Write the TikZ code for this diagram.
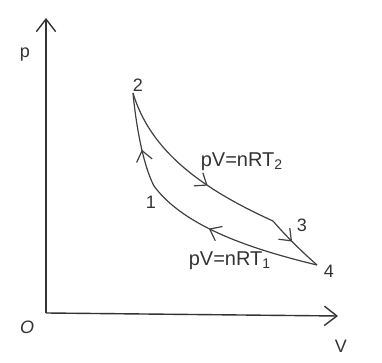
\documentclass[tikz,border=0pt]{standalone}
\usepackage{fontspec}
\setmainfont{Liberation Sans}
\usetikzlibrary{arrows.meta,decorations.markings}
\tikzset{
  ax/.style={-{Straight Barb[length=2.2mm,width=3.4mm]}, line width=0.7pt, color=black!80},
  curve/.style={line width=0.6pt, color=black!75},
  flow/.style={curve, postaction={decorate}, decoration={markings,
      mark=at position #1 with {\arrow{Straight Barb[length=1.8mm,width=2.8mm]}}}},
  lbl/.style={font=\small, color=black!80, inner sep=1pt},
}
\begin{document}
\begin{tikzpicture}[x=0.5pt, y=-0.5pt]
  \useasboundingbox (0,0) rectangle (382,363);
  % axes
  \coordinate (o) at (46,313);
  \coordinate (ptop) at (46,18);
  \coordinate (vend) at (338,316);
  \draw[ax] (o) -- (ptop);
  \draw[ax] (o) -- (vend);
  \node[lbl] (plbl) at (25,55) {p};
  \node[lbl, font=\small\itshape] (olbl) at (27,327) {O};
  \node[lbl] (vlbl) at (341,346) {V};
  % cycle corners
  \coordinate (s1) at (154,186);
  \coordinate (s2) at (133,93);
  \coordinate (s3) at (273,221);
  \coordinate (s4) at (317,265);
  \node[lbl] (n1) at (151,202) {1};
  \node[lbl] (n2) at (138,85) {2};
  \node[lbl] (n3) at (302,225) {3};
  \node[lbl] (n4) at (329,271) {4};
  % isotherms and adiabats
  \draw[flow=0.62] (s2) .. controls (150,150) and (200,188) .. (s3);
  \draw[flow=0.45] (s3) .. controls (285,235) and (300,250) .. (s4);
  \draw[flow=0.62] (s4) .. controls (255,250) and (185,228) .. (s1);
  \draw[flow=0.4] (s1) .. controls (143,165) and (136,125) .. (s2);
  \node[lbl, font=\normalsize] (iso2) at (242,162) {pV=nRT\textsubscript{2}};
  \node[lbl, font=\normalsize] (iso1) at (230,261) {pV=nRT\textsubscript{1}};
\end{tikzpicture}
\end{document}
